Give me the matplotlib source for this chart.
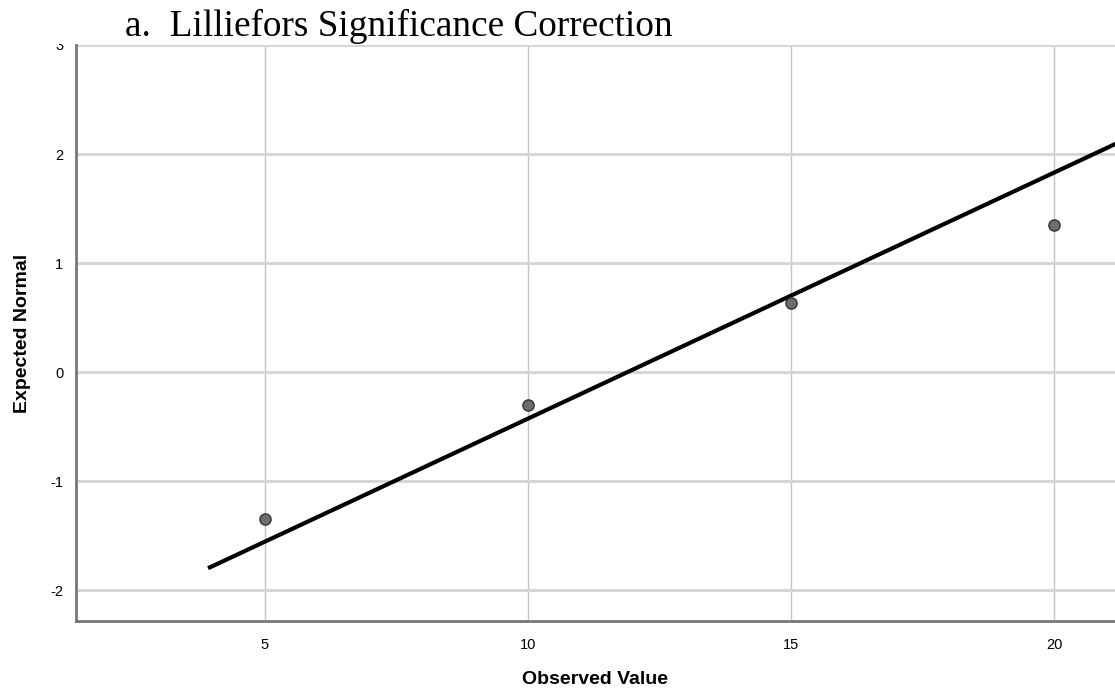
import numpy as np
import matplotlib.pyplot as plt
from matplotlib.patches import Rectangle

# data
observed = [5, 10, 15, 20]
expected = [-1.35, -0.30, 0.63, 1.35]
line_x = [3.92, 21.6]
line_y = [-1.80, 2.19]
xticks = [5, 10, 15, 20]
yticks = [-2, -1, 0, 1, 2, 3]

plt.rcParams['font.family'] = ['Liberation Sans', 'DejaVu Sans']

fig = plt.figure(figsize=(11.15, 6.93), dpi=100)
ax = fig.add_axes([76 / 1115, 1 - 621 / 693, 1 - 76 / 1115, (621 - 45) / 693])

ax.set_xlim(1.41, 21.16)
ax.set_ylim(-2.284, 3.0)

ax.plot(line_x, line_y, color='black', lw=3, solid_capstyle='butt', zorder=3)
ax.scatter(observed, expected, s=65, color='#6e6e6e', edgecolor='#333333',
           linewidth=1, zorder=4)

ax.set_xticks(xticks)
ax.set_yticks(yticks)
ax.set_xticklabels([str(v) for v in xticks])
ax.set_yticklabels([str(v) for v in yticks])
ax.tick_params(length=0, labelsize=10.5, colors='black')
ax.tick_params(axis='y', pad=9)
ax.tick_params(axis='x', pad=12)

ax.grid(axis='y', color='#d4d4d4', lw=2)
ax.grid(axis='x', color='#c4c4c4', lw=1)
ax.set_axisbelow(True)

for side in ['top', 'right']:
    ax.spines[side].set_visible(False)
for side in ['left', 'bottom']:
    ax.spines[side].set_color('#777777')
    ax.spines[side].set_linewidth(2)

ax.set_xlabel('Observed Value', fontsize=14, fontweight='bold')
ax.set_ylabel('Expected Normal', fontsize=14, fontweight='bold')
ax.xaxis.set_label_coords(0.5, -0.087)
ax.yaxis.set_label_coords(-0.043, 0.5)

# white band on top, as in the cropped source, with the footnote title over it
fig.patches.append(Rectangle((0, 1 - 44 / 693), 1, 44 / 693, transform=fig.transFigure,
                             facecolor='white', edgecolor='none', zorder=5))
fig.text(125 / 1115, 1 - 26 / 693, 'a.  Lilliefors Significance Correction',
         fontsize=26.8, family='Liberation Serif', va='center', ha='left', zorder=6)

fig.savefig('out.png', dpi=100)
